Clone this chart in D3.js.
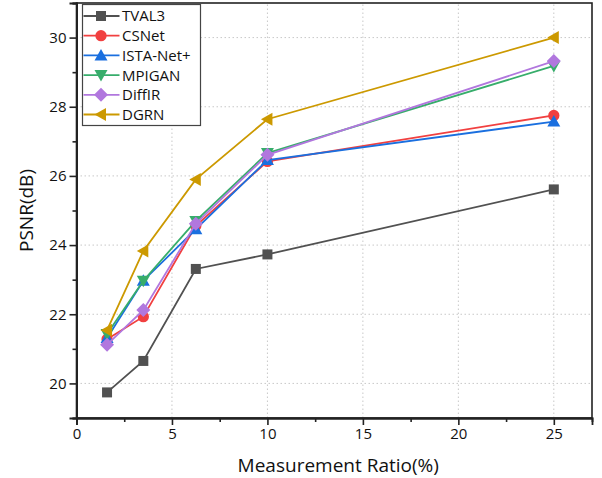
<!DOCTYPE html>
<meta charset="utf-8">
<style>
body { margin: 0; background: #fff; }
svg text { font-family: "Open Sans", "Noto Sans", sans-serif; fill: #111; }
.grid line { stroke: #c8c8c8; stroke-width: 1; stroke-dasharray: 1.5,2.5; }
</style>
<body>
<script src="https://d3js.org/d3.v7.min.js" charset="utf-8"></script>
<script>

var width = 602,
    height = 478;

var margin = {left: 76.5, right: 10, top: 3, bottom: 60};

// measurement ratios (%)
var ratios = [1.6, 3.5, 6.25, 10, 25];

var seriesNames = ["TVAL3", "CSNet", "ISTA-Net+", "MPIGAN", "DiffIR", "DGRN"];
var tval3  = [19.74, 20.65, 23.31, 23.73, 25.61];
var csnet  = [21.28, 21.93, 24.56, 26.42, 27.75];
var istanet = [21.31, 22.97, 24.46, 26.46, 27.57];
var mpigan = [21.43, 22.97, 24.70, 26.66, 29.18];
var diffir = [21.12, 22.12, 24.62, 26.61, 29.32];
var dgrn   = [21.54, 23.83, 25.90, 27.64, 30.00];

var colors = ["#515151", "#F14040", "#1A6FDF", "#37AD6B", "#B177DE", "#CC9900"];
var symbols = ["square", "circle", "triUp", "triDown", "diamond", "triLeft"];

var xTicks = [0, 5, 10, 15, 20, 25];
var yTicks = [20, 22, 24, 26, 28, 30];

var allSeries = [tval3, csnet, istanet, mpigan, diffir, dgrn].map((vals, i) => ({
  name: seriesNames[i],
  color: colors[i],
  sym: symbols[i],
  points: vals.map((v, j) => ({x: ratios[j], y: v}))
}));

var svg = d3.select("body").append("svg")
    .attr("width", width)
    .attr("height", height);

var x = d3.scaleLinear().domain([0, 27]).range([margin.left, 592]);
var y = d3.scaleLinear().domain([19, 31]).range([418, margin.top]);

// dotted grid
var grid = svg.append("g").attr("class", "grid");
grid.selectAll("line.gx")
    .data(xTicks.filter(d => d > 0))
  .enter().append("line")
    .attr("x1", d => x(d)).attr("x2", d => x(d))
    .attr("y1", y(19)).attr("y2", y(31));
grid.selectAll("line.gy")
    .data(yTicks)
  .enter().append("line")
    .attr("x1", x(0)).attr("x2", x(27))
    .attr("y1", d => y(d)).attr("y2", d => y(d));

// frame
svg.append("rect")
    .attr("x", x(0)).attr("y", y(31))
    .attr("width", x(27) - x(0)).attr("height", y(19) - y(31))
    .attr("fill", "none").attr("stroke", "#222").attr("stroke-width", 1.6);

// axes with minor ticks
var xAxis = d3.axisBottom(x).tickValues(xTicks).tickSize(7).tickPadding(3);
var xMinor = d3.axisBottom(x).tickValues(d3.range(2.5, 27, 5)).tickSize(4).tickFormat("");
var yAxis = d3.axisLeft(y).tickValues(yTicks).tickSize(7).tickPadding(3);
var yMinor = d3.axisLeft(y).tickValues(d3.range(19, 31.1, 2)).tickSize(4).tickFormat("");

function styleAxis(g) {
  g.select(".domain").attr("stroke", "#222").attr("stroke-width", 1.8);
  g.selectAll(".tick line").attr("stroke", "#222").attr("stroke-width", 1.6);
  g.selectAll(".tick text").style("font-size", "15px").attr("fill", "#111");
}

svg.append("g").attr("transform", `translate(0,${y(19)})`).call(xMinor).call(styleAxis);
svg.append("g").attr("transform", `translate(0,${y(19)})`).call(xAxis).call(styleAxis);
svg.append("g").attr("transform", `translate(${x(0)},0)`).call(yMinor).call(styleAxis);
svg.append("g").attr("transform", `translate(${x(0)},0)`).call(yAxis).call(styleAxis);

// axis titles
svg.append("text")
    .attr("x", (x(0) + x(27)) / 2 + 4)
    .attr("y", 472)
    .attr("text-anchor", "middle")
    .style("font-size", "19px")
    .text("Measurement Ratio(%)");

svg.append("text")
    .attr("transform", `translate(33,${(y(19) + y(31)) / 2}) rotate(-90)`)
    .attr("text-anchor", "middle")
    .style("font-size", "19px")
    .text("PSNR(dB)");

// marker shapes, centred on 0,0
function markerPath(sym) {
  switch (sym) {
    case "square": return "M-5,-5H5V5H-5Z";
    case "circle": return d3.symbol(d3.symbolCircle, 100)();
    case "triUp": return "M0,-6.5L6.5,5L-6.5,5Z";
    case "triDown": return "M0,6.5L6.5,-5L-6.5,-5Z";
    case "diamond": return "M0,-7L7,0L0,7L-7,0Z";
    case "triLeft": return "M-6.5,0L5,-6.5L5,6.5Z";
  }
}

var line = d3.line().x(d => x(d.x)).y(d => y(d.y));

var series = svg.selectAll("g.series")
    .data(allSeries)
  .enter().append("g")
    .attr("class", "series");

series.append("path")
    .attr("d", d => line(d.points))
    .attr("fill", "none")
    .attr("stroke", d => d.color)
    .attr("stroke-width", 1.8);

series.each(function(s) {
  d3.select(this).selectAll("path.m")
      .data(s.points)
    .enter().append("path")
      .attr("class", "m")
      .attr("transform", d => `translate(${x(d.x)},${y(d.y)})`)
      .attr("d", markerPath(s.sym))
      .attr("fill", s.color);
});

// legend
var legend = svg.append("g").attr("transform", "translate(82,4)");
legend.append("rect")
    .attr("x", 0.5).attr("y", 0.5)
    .attr("width", 118).attr("height", 121)
    .attr("fill", "#fff")
    .attr("stroke", "#444").attr("stroke-width", 1.2);

var items = legend.selectAll("g.item")
    .data(allSeries)
  .enter().append("g")
    .attr("transform", (d, i) => `translate(0,${12 + i * 19.7})`);

items.append("line")
    .attr("x1", 1.5).attr("x2", 37.5)
    .attr("stroke", d => d.color).attr("stroke-width", 1.8);
items.append("path")
    .attr("transform", "translate(19,0)")
    .attr("d", d => markerPath(d.sym))
    .attr("fill", d => d.color);
items.append("text")
    .attr("x", 40)
    .attr("dy", "0.36em")
    .style("font-size", "15px")
    .text(d => d.name);

</script>
